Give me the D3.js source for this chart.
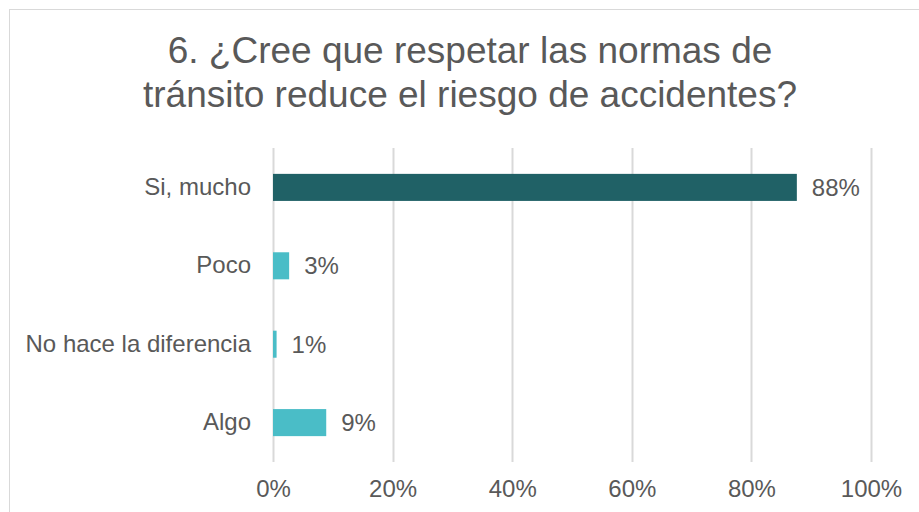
<!DOCTYPE html>
<html>
<head>
<meta charset="utf-8">
<script src="https://d3js.org/d3.v7.min.js"></script>
<style>
  body { margin: 0; background: #fff; }
  text { font-family: "Liberation Sans", Arial, sans-serif; fill: #595959; }
</style>
</head>
<body>
<div id="container"></div>
<script>
// Data
const categories = ["Si, mucho", "Poco", "No hace la diferencia", "Algo"]
const values = [87.6, 2.7, 0.6, 8.9]
const barColors = ["#206166", "#4abdc7", "#4abdc7", "#4abdc7"]
const ticks = [0, 20, 40, 60, 80, 100]
const titleLines = ["6. ¿Cree que respetar las normas de", "tránsito reduce el riesgo de accidentes?"]

const w = 919
const h = 512

const svg = d3.select("#container")
    .append("svg")
    .attr("width", w)
    .attr("height", h)

// Chart border
svg.append("rect")
    .attr("x", 9.5)
    .attr("y", 9.5)
    .attr("width", 921)
    .attr("height", 520)
    .attr("fill", "#fff")
    .attr("stroke", "#d9d9d9")

// Title
svg.append("text")
    .attr("text-anchor", "middle")
    .attr("font-size", 37)
    .selectAll("tspan")
    .data(titleLines)
    .enter()
    .append("tspan")
    .attr("x", 470)
    .attr("y", (d, i) => 63 + i * 44)
    .text(d => d)

// Scales
const xScale = d3.scaleLinear()
    .domain([0, 100])
    .range([273, 871])

const yScale = d3.scaleBand()
    .domain(categories)
    .range([148, 462])
    .paddingInner(0.655)
    .paddingOuter(0.33)

// Gridlines
svg.append("g")
    .selectAll("line")
    .data(ticks)
    .enter()
    .append("line")
    .attr("x1", d => Math.round(xScale(d)) + 0.5)
    .attr("x2", d => Math.round(xScale(d)) + 0.5)
    .attr("y1", 148)
    .attr("y2", 462)
    .attr("stroke", "#d9d9d9")
    .attr("stroke-width", 2)

// X axis labels
const xAxis = d3.axisBottom(xScale)
    .tickValues(ticks)
    .tickFormat(d => d + "%")
    .tickSize(0)
    .tickPadding(0)

svg.append("g")
    .attr("transform", "translate(0,480)")
    .call(xAxis)
    .call(g => g.select(".domain").remove())
    .call(g => g.selectAll("text")
        .attr("font-size", 24)
        .attr("font-family", "Liberation Sans, Arial, sans-serif")
        .attr("fill", "#595959"))

// Category labels
const yAxis = d3.axisLeft(yScale)
    .tickSize(0)
    .tickPadding(22)

svg.append("g")
    .attr("transform", "translate(273,0)")
    .call(yAxis)
    .call(g => g.select(".domain").remove())
    .call(g => g.selectAll("text")
        .attr("font-size", 24)
        .attr("font-family", "Liberation Sans, Arial, sans-serif")
        .attr("fill", "#595959"))

// Bars
svg.selectAll(".bar")
    .data(categories)
    .enter()
    .append("rect")
    .attr("class", "bar")
    .attr("x", xScale(0))
    .attr("y", d => yScale(d))
    .attr("width", (d, i) => xScale(values[i]) - xScale(0))
    .attr("height", yScale.bandwidth())
    .attr("fill", (d, i) => barColors[i])

// Value labels
svg.selectAll(".val")
    .data(categories)
    .enter()
    .append("text")
    .attr("class", "val")
    .attr("x", (d, i) => xScale(values[i]) + 15)
    .attr("y", d => yScale(d) + yScale.bandwidth() / 2)
    .attr("dy", "0.35em")
    .attr("font-size", 24)
    .text((d, i) => Math.round(values[i]) + "%")
</script>
</body>
</html>
